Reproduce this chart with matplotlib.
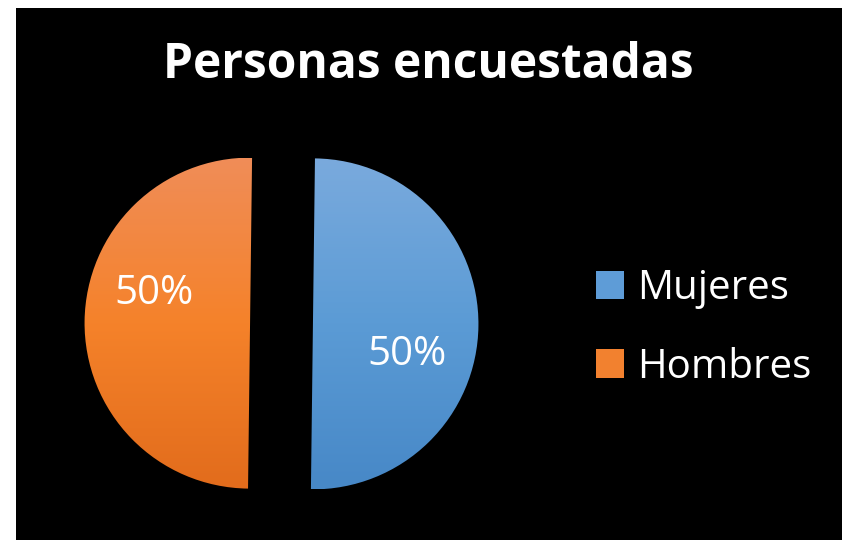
"""Pie chart: Personas encuestadas (Mujeres / Hombres)."""

import matplotlib

matplotlib.use("Agg")

import matplotlib.pyplot as plt
import numpy as np
from matplotlib.colors import LinearSegmentedColormap
from matplotlib.patches import Patch, Rectangle

plt.rcParams["font.family"] = ["Open Sans", "DejaVu Sans"]

TITLE = "Personas encuestadas"
categories = ["Mujeres", "Hombres"]
values = [50, 50]
# gradient stops (top, middle, bottom) for each slice
gradients = [
    ["#7aaadd", "#5b9bd5", "#4788c7"],
    ["#f08d58", "#f5822a", "#e26c1c"],
]
legend_colors = ["#5e9cd7", "#f2812f"]

W, H = 842, 540
fig = plt.figure(figsize=(W / 100, H / 100), dpi=100, facecolor="white")

# black chart area with thin white margin top/left
fig.patches.append(
    Rectangle((16 / W, 0), 1 - 16 / W, 1 - 8 / H, transform=fig.transFigure,
              facecolor="black", edgecolor="none", zorder=-5)
)

# pie axes: centre at (281.5, 323.5) px, radius 165.5 px
R = 165.5
L = 1.25
cx, cy = 281.5, H - 323.5
side = 2 * L * R
ax = fig.add_axes([(cx - side / 2) / W, (cy - side / 2) / H, side / W, side / H])
ax.patch.set_alpha(0)

wedges, _, autotexts = ax.pie(
    values,
    explode=[0.19, 0.19],
    startangle=89.3,
    counterclock=False,
    autopct="%1.0f%%",
    colors=legend_colors,
    textprops=dict(color="white", fontsize=29),
    wedgeprops=dict(linewidth=0),
    frame=False,
)
ax.set_aspect("equal")
ax.axis("off")

grad = np.linspace(0, 1, 256).reshape(-1, 1)
for w, stops in zip(wedges, gradients):
    cmap = LinearSegmentedColormap.from_list("g", stops)
    im = ax.imshow(grad, cmap=cmap, extent=[-L, L, -1.0, 1.0], origin="upper",
                   aspect="auto", zorder=1)
    im.set_clip_path(w)
    w.set_facecolor("none")
ax.set_xlim(-L, L)
ax.set_ylim(-L, L)

label_pos = [(0.76, -0.19), (-0.77, 0.18)]
for t, pos in zip(autotexts, label_pos):
    t.set_position(pos)
    t.set_zorder(3)

fig.text(428 / W, 1 - 65 / H, TITLE, color="white", fontsize=34.5,
         fontweight="bold", ha="center", va="center")

handles = [Patch(facecolor=c, edgecolor="none") for c in legend_colors]
fig.legend(
    handles, categories,
    loc="center left", bbox_to_anchor=(596 / W, 1 - 328 / H),
    frameon=False, fontsize=29, labelcolor="white",
    handlelength=0.7, handleheight=0.7, handletextpad=0.33,
    labelspacing=0.95, borderpad=0, borderaxespad=0,
)

fig.savefig("out.png", dpi=100, facecolor=fig.get_facecolor())
